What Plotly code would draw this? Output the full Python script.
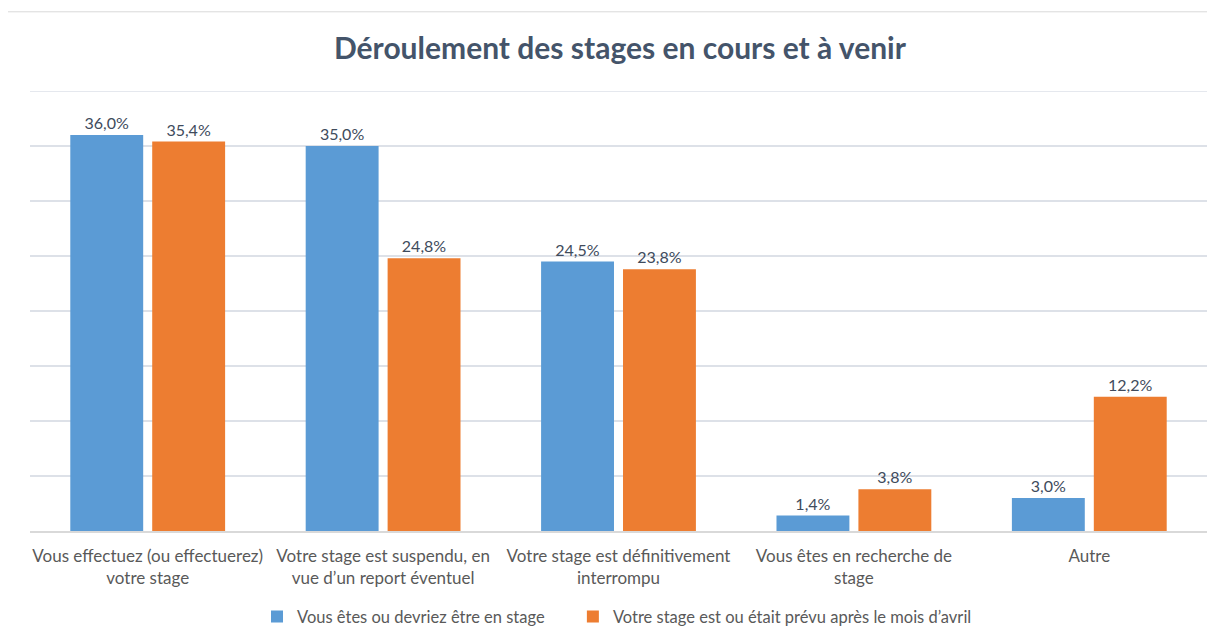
import plotly.graph_objects as go

categories = [
    "Vous effectuez (ou effectuerez)<br>votre stage",
    "Votre stage est suspendu, en<br>vue d’un report éventuel",
    "Votre stage est définitivement<br>interrompu",
    "Vous êtes en recherche de<br>stage",
    "Autre",
]
series_names = [
    "Vous êtes ou devriez être en stage",
    "Votre stage est ou était prévu après le mois d’avril",
]
values_en_stage = [36.0, 35.0, 24.5, 1.4, 3.0]
values_apres_avril = [35.4, 24.8, 23.8, 3.8, 12.2]
colors = ["#5B9BD5", "#ED7D31"]
legend_ids = ["legend", "legend2"]

def fmt(v):
    return f"{v:.1f}%".replace(".", ",")

fig = go.Figure()
for name, vals, col, lg in zip(series_names, [values_en_stage, values_apres_avril], colors, legend_ids):
    fig.add_trace(go.Bar(
        x=categories, y=vals, name=name, legend=lg,
        marker=dict(color=col, line=dict(width=0)),
        text=[fmt(v) for v in vals], textposition="outside",
        textfont=dict(size=16, color="#404B5C", family="Lato"),
        cliponaxis=False,
    ))

legend_style = dict(orientation="h", xanchor="left", xref="container",
                    y=0.032, yanchor="middle", yref="container",
                    font=dict(size=16.5, color="#595959"), itemwidth=30,
                    bgcolor="rgba(0,0,0,0)")

fig.update_layout(
    width=1207, height=629,
    paper_bgcolor="white", plot_bgcolor="white",
    margin=dict(l=22, r=8, t=83, b=106, autoexpand=False),
    font=dict(family="Lato", color="#595959"),
    title=dict(text="<b>Déroulement des stages en cours et à venir</b>",
               x=0.507, xanchor="center", y=0.936, yanchor="middle",
               font=dict(size=30, color="#44546A", family="Lato")),
    barmode="group", bargap=0.304, bargroupgap=0.11,
    showlegend=True,
    legend=dict(x=0.2063, **legend_style),
    legend2=dict(x=0.468, **legend_style),
    xaxis=dict(showgrid=False, showline=True, linecolor="#D9D9D9", linewidth=1.5,
               automargin=False,
               tickfont=dict(size=17, color="#595959"), ticks="outside", ticklen=9,
               tickcolor="rgba(0,0,0,0)"),
    yaxis=dict(range=[0, 40], dtick=5, showgrid=True, gridcolor="#DDE1E8", gridwidth=1.5,
               automargin=False,
               showticklabels=False, zeroline=False, showline=False),
    shapes=[
        dict(type="line", xref="x domain", yref="y", x0=0, x1=1, y0=40, y1=40,
             line=dict(color="#DDE1E8", width=1.5), layer="below"),
        dict(type="line", xref="paper", yref="paper", x0=-0.0195, x1=-0.0195, y0=1.18, y1=-0.3,
             line=dict(color="#D9D9D9", width=1)),
        dict(type="line", xref="paper", yref="paper", x0=-0.0195, x1=1.01, y0=1.18, y1=1.18,
             line=dict(color="#D9D9D9", width=1)),
    ],
)
fig.write_html("out.html")
